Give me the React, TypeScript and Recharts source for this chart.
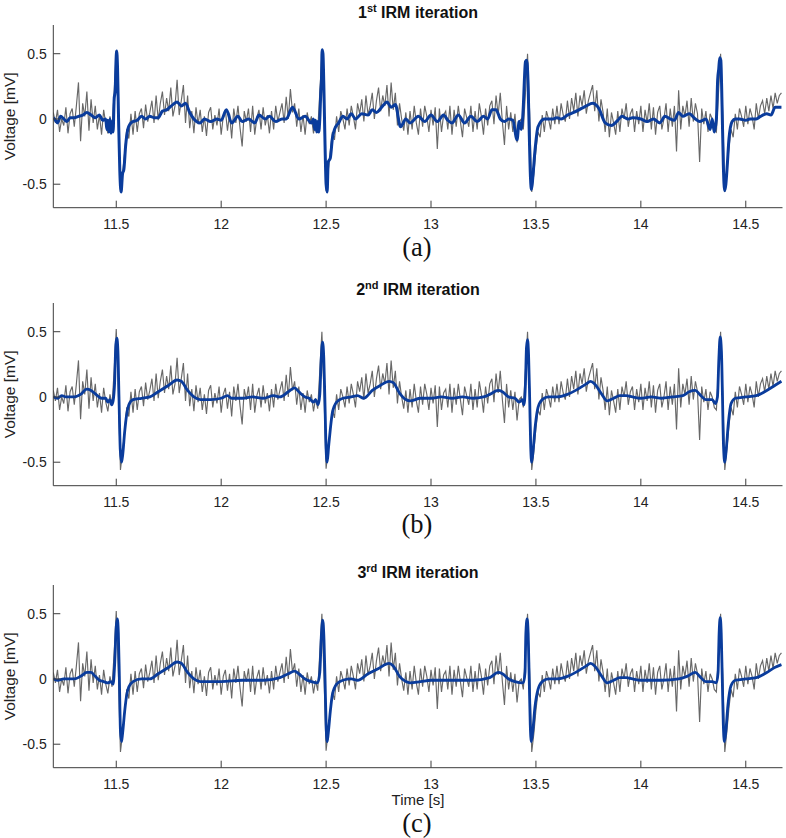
import React from 'react';
import { LineChart, Line, XAxis, YAxis } from 'recharts';

const timeTicks = [11.5, 12, 12.5, 13, 13.5, 14, 14.5];
const voltageTicks = [-0.5, 0, 0.5];

// noisy recording, one sample every 10 ms starting at 11.20 s
const rawStart = 11.2;
const rawStep = 0.01;
const rawVoltage = [
  0.05, -0.03, 0.07, -0.1, 0.0, -0.05, 0.09, -0.11, 0.04, 0.08,
  -0.06, 0.1, 0.28, -0.17, 0.12, 0.02, 0.21, -0.09, 0.15, -0.03,
  0.1, -0.08, 0.03, -0.12, 0.07, -0.04, -0.11, 0.02, -0.06, 0.2,
  0.52, 0.05, -0.56, -0.42, -0.26, -0.08, -0.15, 0.04, -0.12, 0.06,
  -0.1, 0.04, 0.08, -0.07, 0.11, -0.02, 0.05, 0.14, -0.03, 0.18,
  -0.01, 0.12, 0.21, 0.03, 0.16, 0.06, 0.24, 0.02, 0.1, 0.3,
  0.03, 0.14, 0.26, -0.03, 0.18, -0.07, 0.06, -0.11, 0.09, -0.04,
  0.07, -0.1, 0.02, -0.13, 0.05, 0.09, -0.08, 0.03, -0.05, 0.08,
  -0.12, 0.02, 0.07, -0.09, 0.04, -0.15, 0.08, -0.03, 0.1, -0.07,
  -0.21, 0.06, -0.02, 0.08, -0.1, 0.1, -0.12, 0.01, 0.07, -0.08,
  0.09, -0.05, 0.03, -0.11, 0.06, -0.08, 0.1, -0.02, 0.05, 0.12,
  -0.03, 0.17, 0.0, 0.23, 0.05, 0.12, -0.06, 0.08, -0.1, 0.03,
  -0.12, 0.05, -0.04, 0.02, -0.11, -0.01, -0.09, 0.2, 0.5, 0.02,
  -0.55, -0.4, -0.25, -0.1, -0.16, 0.02, -0.1, 0.06, 0.0, -0.08,
  0.08, -0.05, 0.1, 0.02, -0.08, 0.12, 0.04, 0.15, -0.02, 0.18,
  0.03, 0.1, 0.2, 0.0, 0.14, 0.24, 0.06, 0.18, 0.1, 0.26,
  0.02, 0.28, 0.07, 0.2, -0.05, 0.12, 0.0, -0.09, 0.05, -0.12,
  0.06, -0.08, 0.1, -0.03, -0.12, 0.08, -0.06, 0.1, 0.02, -0.1,
  0.07, -0.05, 0.09, -0.23, 0.08, -0.1, 0.03, 0.06, -0.08, 0.1,
  -0.12, 0.07, -0.06, 0.1, -0.02, -0.14, 0.08, 0.01, -0.06, 0.1,
  -0.1, 0.06, -0.08, 0.12, 0.02, -0.12, 0.08, -0.05, 0.1, 0.14,
  -0.04, 0.18, 0.03, 0.2, -0.02, -0.2, 0.1, -0.08, 0.05, -0.1,
  0.04, -0.18, -0.02, 0.0, -0.08, 0.2, 0.5, 0.05, -0.56, -0.42,
  -0.24, -0.1, -0.14, 0.03, -0.1, 0.06, 0.0, -0.08, 0.08, -0.04,
  0.1, -0.04, 0.12, 0.03, -0.02, 0.14, 0.0, 0.16, 0.06, 0.2,
  0.02, 0.18, 0.1, 0.22, 0.04, 0.14, 0.2, 0.26, 0.06, 0.22,
  -0.02, 0.15, 0.05, -0.1, 0.08, -0.14, 0.05, -0.03, -0.12, 0.06,
  -0.1, 0.08, 0.0, 0.12, -0.06, 0.04, 0.08, -0.1, 0.06, -0.04,
  0.1, -0.1, 0.07, -0.03, 0.12, -0.08, 0.09, -0.12, 0.05, 0.1,
  -0.08, 0.0, 0.12, -0.1, 0.08, -0.06, 0.1, -0.25, 0.22, -0.08,
  0.1, 0.02, 0.14, -0.06, 0.16, -0.02, 0.12, 0.04, -0.33, 0.08,
  -0.04, 0.06, -0.1, 0.04, 0.0, -0.08, -0.1, 0.2, 0.5, 0.04,
  -0.56, -0.4, -0.22, -0.08, -0.14, 0.04, -0.08, 0.08, 0.02, -0.06,
  0.1, -0.04, 0.08, 0.02, -0.08, 0.12, 0.0, 0.1, 0.14, 0.04,
  0.16, 0.06, 0.18, 0.08, 0.2, 0.12, 0.18, 0.2,
];

// IRM estimates [time s, voltage mV]
const irm1: [number, number][] = [
  [11.2, 0.01], [11.21, -0.01], [11.22, -0.03], [11.235, 0.02], [11.25, 0.0], [11.265, -0.02],
  [11.28, 0.01], [11.3, 0.01], [11.32, 0.02], [11.34, 0.03], [11.36, 0.05], [11.38, 0.03],
  [11.4, 0.01], [11.42, 0.03], [11.435, -0.01], [11.45, 0.0], [11.455, -0.08], [11.46, -0.01],
  [11.465, -0.1], [11.47, 0.0], [11.475, -0.11], [11.48, -0.02], [11.485, -0.1], [11.49, 0.15],
  [11.495, 0.22], [11.499, 0.45], [11.502, 0.52], [11.506, 0.4], [11.511, 0.0], [11.517, -0.4],
  [11.523, -0.56], [11.53, -0.42], [11.536, -0.39], [11.545, -0.2], [11.555, -0.08], [11.565, -0.04],
  [11.58, -0.02], [11.6, -0.01], [11.62, 0.02], [11.64, 0.0], [11.66, 0.02], [11.68, 0.01],
  [11.7, 0.01], [11.72, 0.06], [11.74, 0.07], [11.77, 0.11], [11.79, 0.13], [11.81, 0.1],
  [11.83, 0.12], [11.85, 0.05], [11.87, 0.0], [11.9, -0.03], [11.92, 0.0], [11.95, -0.02],
  [11.98, 0.0], [12.0, -0.01], [12.025, 0.07], [12.05, -0.03], [12.08, 0.02], [12.1, -0.02],
  [12.13, 0.0], [12.16, -0.03], [12.18, 0.03], [12.21, 0.0], [12.23, 0.02], [12.26, -0.02],
  [12.29, 0.0], [12.31, 0.0], [12.34, 0.09], [12.37, 0.0], [12.4, 0.02], [12.43, -0.03],
  [12.44, 0.0], [12.445, -0.08], [12.45, -0.01], [12.455, -0.1], [12.46, -0.02], [12.465, -0.1],
  [12.47, 0.0], [12.475, 0.22], [12.478, 0.3], [12.481, 0.53], [12.485, 0.5], [12.49, 0.2],
  [12.495, -0.2], [12.5, -0.5], [12.505, -0.56], [12.51, -0.33], [12.52, -0.3], [12.53, -0.15],
  [12.54, -0.08], [12.56, -0.03], [12.58, 0.02], [12.6, 0.0], [12.62, 0.04], [12.64, 0.0],
  [12.67, 0.04], [12.7, 0.03], [12.72, 0.07], [12.74, 0.05], [12.77, 0.1], [12.79, 0.13],
  [12.81, 0.09], [12.83, 0.11], [12.855, -0.06], [12.88, 0.0], [12.9, -0.03], [12.94, 0.02],
  [12.97, -0.02], [13.0, 0.03], [13.03, -0.02], [13.06, 0.03], [13.08, -0.01], [13.1, -0.03],
  [13.13, 0.03], [13.16, -0.03], [13.19, 0.02], [13.22, -0.02], [13.25, 0.02], [13.27, 0.0],
  [13.29, 0.07], [13.31, 0.07], [13.33, 0.0], [13.35, -0.02], [13.37, 0.0], [13.39, -0.01],
  [13.41, -0.16], [13.42, -0.02], [13.43, -0.08], [13.44, 0.1], [13.445, 0.3], [13.45, 0.44],
  [13.456, 0.45], [13.462, 0.3], [13.468, -0.1], [13.474, -0.45], [13.479, -0.54], [13.485, -0.45],
  [13.495, -0.25], [13.51, -0.06], [13.54, 0.0], [13.58, 0.0], [13.6, 0.01], [13.62, 0.0],
  [13.65, 0.03], [13.68, 0.05], [13.705, 0.07], [13.74, 0.1], [13.77, 0.12], [13.8, 0.08],
  [13.83, -0.03], [13.86, -0.05], [13.89, -0.01], [13.91, 0.02], [13.94, 0.0], [13.96, 0.01],
  [14.0, 0.0], [14.03, -0.02], [14.06, 0.0], [14.09, -0.03], [14.115, 0.02], [14.14, 0.0],
  [14.16, -0.01], [14.18, 0.05], [14.2, 0.02], [14.23, 0.04], [14.26, 0.0], [14.28, -0.02],
  [14.31, 0.0], [14.33, -0.08], [14.34, 0.0], [14.35, -0.1], [14.36, 0.0], [14.366, 0.3],
  [14.371, 0.38], [14.376, 0.47], [14.381, 0.45], [14.387, 0.1], [14.393, -0.35], [14.399, -0.55],
  [14.405, -0.5], [14.412, -0.35], [14.42, -0.15], [14.435, -0.02], [14.45, 0.0], [14.47, 0.0],
  [14.5, -0.01], [14.52, 0.0], [14.55, 0.0], [14.57, 0.02], [14.6, 0.04], [14.62, 0.03],
  [14.64, 0.09], [14.67, 0.09],
];

const irm2: [number, number][] = [
  [11.2, 0.0], [11.22, -0.01], [11.24, 0.01], [11.26, 0.0], [11.3, 0.0], [11.33, 0.02],
  [11.36, 0.06], [11.38, 0.05], [11.41, 0.01], [11.43, -0.01], [11.45, -0.01], [11.46, -0.04],
  [11.47, -0.02], [11.478, -0.06], [11.485, -0.03], [11.492, 0.1], [11.498, 0.4], [11.503, 0.45],
  [11.508, 0.35], [11.513, 0.0], [11.519, -0.4], [11.525, -0.5], [11.531, -0.44], [11.54, -0.27],
  [11.55, -0.13], [11.56, -0.06], [11.58, -0.02], [11.62, -0.01], [11.66, 0.0], [11.7, 0.04],
  [11.75, 0.09], [11.79, 0.13], [11.81, 0.12], [11.84, 0.05], [11.87, 0.0], [11.9, -0.02],
  [11.95, -0.02], [12.0, -0.01], [12.03, 0.01], [12.05, -0.01], [12.1, -0.01], [12.15, 0.0],
  [12.2, -0.01], [12.25, 0.01], [12.28, 0.0], [12.32, 0.04], [12.35, 0.07], [12.37, 0.04],
  [12.4, 0.0], [12.42, -0.01], [12.44, -0.04], [12.45, -0.02], [12.462, -0.06], [12.47, 0.02],
  [12.477, 0.3], [12.483, 0.42], [12.489, 0.3], [12.494, 0.0], [12.5, -0.4], [12.505, -0.5],
  [12.512, -0.38], [12.52, -0.25], [12.53, -0.12], [12.55, -0.04], [12.58, -0.01], [12.62, 0.0],
  [12.65, 0.01], [12.68, -0.01], [12.72, 0.05], [12.76, 0.09], [12.8, 0.12], [12.82, 0.11],
  [12.85, 0.03], [12.88, -0.02], [12.9, -0.03], [12.95, -0.01], [13.0, -0.01], [13.05, 0.0],
  [13.1, -0.01], [13.15, 0.0], [13.2, -0.01], [13.25, 0.0], [13.28, 0.02], [13.32, 0.05],
  [13.34, 0.04], [13.37, 0.0], [13.4, -0.01], [13.42, -0.04], [13.435, -0.02], [13.443, -0.06],
  [13.45, 0.1], [13.455, 0.38], [13.46, 0.44], [13.465, 0.32], [13.47, 0.0], [13.475, -0.38],
  [13.48, -0.5], [13.487, -0.4], [13.497, -0.22], [13.51, -0.08], [13.53, -0.02], [13.56, 0.0],
  [13.6, 0.0], [13.65, 0.02], [13.7, 0.06], [13.74, 0.1], [13.76, 0.12], [13.78, 0.1],
  [13.81, 0.03], [13.84, -0.03], [13.87, -0.01], [13.9, 0.01], [13.93, 0.01], [13.96, 0.0],
  [14.0, -0.01], [14.05, 0.0], [14.1, -0.01], [14.15, 0.0], [14.2, 0.01], [14.23, 0.04],
  [14.26, 0.05], [14.28, 0.02], [14.31, -0.02], [14.34, -0.02], [14.355, -0.05], [14.365, 0.0],
  [14.372, 0.3], [14.378, 0.46], [14.384, 0.35], [14.389, 0.0], [14.394, -0.38], [14.4, -0.5],
  [14.407, -0.4], [14.417, -0.2], [14.43, -0.05], [14.45, -0.01], [14.5, 0.0], [14.55, 0.01],
  [14.6, 0.05], [14.64, 0.09], [14.67, 0.12],
];

const irm3: [number, number][] = [
  [11.2, 0.0], [11.22, -0.01], [11.25, 0.0], [11.3, 0.0], [11.33, 0.02], [11.36, 0.05],
  [11.38, 0.05], [11.4, 0.02], [11.42, -0.01], [11.44, -0.02], [11.46, -0.03], [11.475, -0.02],
  [11.485, -0.04], [11.492, 0.1], [11.5, 0.4], [11.505, 0.46], [11.51, 0.35], [11.515, 0.0],
  [11.52, -0.4], [11.525, -0.48], [11.53, -0.42], [11.54, -0.25], [11.55, -0.12], [11.56, -0.06],
  [11.58, -0.02], [11.62, 0.0], [11.66, 0.0], [11.7, 0.04], [11.75, 0.09], [11.79, 0.13],
  [11.81, 0.12], [11.84, 0.05], [11.87, 0.0], [11.9, -0.02], [12.0, -0.02], [12.1, -0.01],
  [12.2, -0.01], [12.28, 0.01], [12.32, 0.04], [12.35, 0.06], [12.37, 0.04], [12.4, 0.0],
  [12.43, -0.02], [12.46, -0.03], [12.47, 0.05], [12.478, 0.35], [12.484, 0.45], [12.49, 0.3],
  [12.495, 0.0], [12.5, -0.35], [12.505, -0.48], [12.51, -0.42], [12.52, -0.25], [12.53, -0.12],
  [12.55, -0.04], [12.58, -0.01], [12.62, 0.0], [12.65, -0.01], [12.7, 0.04], [12.75, 0.08],
  [12.8, 0.12], [12.82, 0.1], [12.85, 0.02], [12.88, -0.02], [12.9, -0.03], [12.95, -0.02],
  [13.0, -0.01], [13.1, -0.01], [13.2, -0.01], [13.28, 0.01], [13.32, 0.05], [13.34, 0.04],
  [13.37, 0.0], [13.4, -0.02], [13.44, -0.03], [13.448, 0.05], [13.452, 0.35], [13.458, 0.46],
  [13.463, 0.35], [13.468, 0.0], [13.473, -0.35], [13.478, -0.48], [13.485, -0.4], [13.495, -0.22],
  [13.51, -0.08], [13.53, -0.02], [13.56, 0.0], [13.6, 0.0], [13.65, 0.02], [13.7, 0.06],
  [13.74, 0.1], [13.76, 0.12], [13.78, 0.1], [13.81, 0.03], [13.84, -0.03], [13.87, -0.01],
  [13.9, 0.01], [13.93, 0.01], [13.96, 0.0], [14.0, -0.01], [14.1, -0.01], [14.18, 0.0],
  [14.22, 0.02], [14.26, 0.05], [14.28, 0.02], [14.31, -0.02], [14.34, -0.02], [14.36, -0.03],
  [14.368, 0.05], [14.373, 0.35], [14.378, 0.47], [14.383, 0.35], [14.388, 0.0], [14.393, -0.35],
  [14.398, -0.48], [14.405, -0.4], [14.415, -0.2], [14.43, -0.05], [14.45, -0.01], [14.5, 0.0],
  [14.55, 0.01], [14.6, 0.05], [14.64, 0.09], [14.67, 0.11],
];

const iterNumbers = ['1', '2', '3'];
const iterSuffixes = ['st', 'nd', 'rd'];
const captions = ['(a)', '(b)', '(c)'];

const rawData = rawVoltage.map((v, i) => ({ t: +(rawStart + i * rawStep).toFixed(2), v }));
const toPoints = (pairs: [number, number][]) => pairs.map(([t, v]) => ({ t, v }));
const irmData = [toPoints(irm1), toPoints(irm2), toPoints(irm3)];

const AXIS = '#3c3c3c';
const GRAY = '#686868';
const BLUE = '#0a3c9c';

const Panel = ({ index, top }: { index: number; top: number }) => (
  <div style={{ position: 'absolute', left: 0, top, width: 786, height: 280 }}>
    <div
      style={{
        position: 'absolute', left: 53, width: 730, top: 4.8, textAlign: 'center',
        fontWeight: 'bold', fontSize: 16, lineHeight: '16px', color: '#111',
      }}
    >
      {iterNumbers[index]}
      <span style={{ fontSize: 11, verticalAlign: 6, lineHeight: 0 }}>{iterSuffixes[index]}</span> IRM iteration
    </div>
    <LineChart width={786} height={238} margin={{ top: 25, right: 3.5, bottom: 0, left: 0 }}>
      <XAxis
        dataKey="t" type="number" domain={[11.2, 14.675]} ticks={timeTicks} allowDataOverflow
        height={30.3} tickSize={-7} tickMargin={17.9} stroke={AXIS}
        tick={{ fill: '#222', fontSize: 14 }}
      />
      <XAxis
        xAxisId="top" orientation="top" dataKey="t" type="number" domain={[11.2, 14.675]}
        ticks={timeTicks} allowDataOverflow height={0} tickSize={-7} tick={false} stroke={AXIS}
      />
      <YAxis
        type="number" domain={[-0.68, 0.72]} ticks={voltageTicks} allowDataOverflow width={53.3}
        tickSize={-7} tickMargin={13.6} stroke={AXIS} tick={{ fill: '#222', fontSize: 14 }}
        label={{
          value: 'Voltage [mV]', angle: -90, position: 'insideLeft', offset: 10,
          style: { textAnchor: 'middle', fontSize: 15.5, fill: '#222' },
        }}
      />
      <YAxis
        yAxisId="right" orientation="right" type="number" domain={[-0.68, 0.72]} ticks={voltageTicks}
        allowDataOverflow width={0} tickSize={-7} tick={false} stroke={AXIS}
      />
      <Line data={rawData} dataKey="v" type="linear" stroke={GRAY} strokeWidth={1.15} dot={false} isAnimationActive={false} />
      <Line
        data={irmData[index]} dataKey="v" type="monotone" stroke={BLUE}
        strokeWidth={index === 0 ? 3 : 2.8} dot={false} isAnimationActive={false}
      />
    </LineChart>
    {index === 2 && (
      <div
        style={{
          position: 'absolute', left: 53, width: 730, top: 232.4, textAlign: 'center',
          fontSize: 15, lineHeight: '15px', color: '#222',
        }}
      >
        Time [s]
      </div>
    )}
    <div
      style={{
        position: 'absolute', left: 53, width: 728, top: index === 2 ? 249.7 : 233.8, textAlign: 'center',
        fontFamily: '"Liberation Serif", serif', fontSize: 26.5, lineHeight: '26.5px', color: '#111',
      }}
    >
      {captions[index]}
    </div>
  </div>
);

const App = () => (
  <div
    style={{
      position: 'absolute', left: 0, top: 0, width: 786, height: 838, background: '#fff',
      fontFamily: '"Liberation Sans", Arial, sans-serif', overflow: 'hidden',
    }}
  >
    <Panel index={0} top={0} />
    <Panel index={1} top={277.7} />
    <Panel index={2} top={560} />
  </div>
);

export default App;
